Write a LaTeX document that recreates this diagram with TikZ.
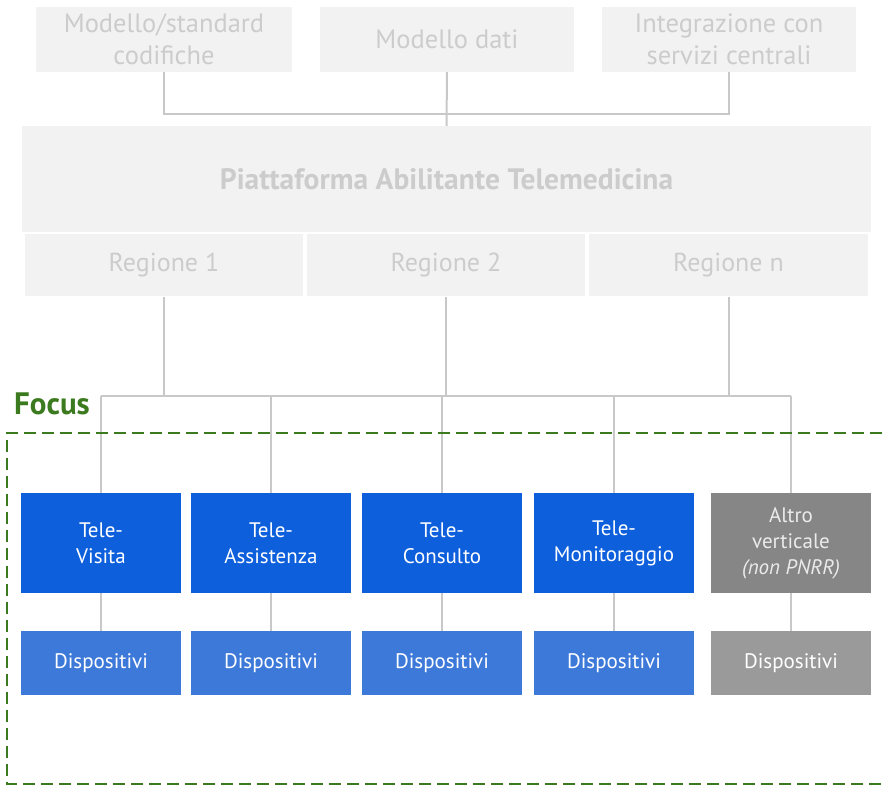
\documentclass[tikz,border=0pt]{standalone}
\usepackage{fontspec}
\setmainfont{PT Sans}
\definecolor{paleBox}{HTML}{F2F2F2}
\definecolor{paleText}{HTML}{CCCCCC}
\definecolor{wire}{HTML}{C8C8C8}
\definecolor{deepBlue}{HTML}{0D5FDC}
\definecolor{lightBlue}{HTML}{3D79D9}
\definecolor{darkGrey}{HTML}{868686}
\definecolor{midGrey}{HTML}{9A9A9A}
\definecolor{focusGreen}{HTML}{3B7A1E}
\begin{document}
\begin{tikzpicture}[x=1pt,y=-1pt,
  pale/.style={fill=paleBox,draw=none,text=paleText,inner sep=0pt,align=center,
    font=\fontsize{26.5}{32}\selectfont},
  regbox/.style={pale,minimum height=62pt,font=\fontsize{26}{30}\selectfont},
  vert/.style={fill=deepBlue,text=white,inner sep=0pt,align=center,
    minimum width=160pt,minimum height=100pt,font=\fontsize{21}{26}\selectfont},
  vertgrey/.style={vert,fill=darkGrey,text=white!92!black},
  devbox/.style={fill=lightBlue,text=white,inner sep=0pt,align=center,
    minimum width=160pt,minimum height=64pt,font=\fontsize{21}{26}\selectfont},
  devgrey/.style={devbox,fill=midGrey},
  wireline/.style={draw=wire,line width=2pt},
  focusline/.style={draw=focusGreen,line width=2.5pt,dash pattern=on 12pt off 6pt}]
\useasboundingbox (0,0) rectangle (883,784);
\clip (0,0) rectangle (883,784);

% standards / data model / central services
\node[pale,minimum width=256pt,minimum height=65pt] (std) at (164,39.5) {Modello/standard\\codifiche};
\node[pale,minimum width=254pt,minimum height=65pt] (dat) at (447,39.5) {Modello dati};
\node[pale,minimum width=254pt,minimum height=65pt] (svc) at (729,39.5) {Integrazione con\\servizi centrali};

% enabling platform and regions
\node[pale,minimum width=849pt,minimum height=106pt,font=\fontsize{29.5}{34}\selectfont\bfseries] (plat) at (446.5,179) {Piattaforma Abilitante Telemedicina};
\node[regbox,minimum width=278pt] (r1) at (164,265) {Regione 1};
\node[regbox,minimum width=278pt] (r2) at (446,265) {Regione 2};
\node[regbox,minimum width=279pt] (r3) at (728.5,265) {Regione n};

% verticals
\node[vert] (v1) at (101,543) {Tele-\\Visita};
\node[vert] (v2) at (271,543) {Tele-\\Assistenza};
\node[vert] (v3) at (442,543) {Tele-\\Consulto};
\node[vert] (v4) at (614,543) {Tele-\\Monitoraggio};
\node[vertgrey] (v5) at (791,543) {Altro\\verticale\\\textit{(non PNRR)}};

% devices
\node[devbox] (d1) at (101,663) {Dispositivi};
\node[devbox] (d2) at (271,663) {Dispositivi};
\node[devbox] (d3) at (442,663) {Dispositivi};
\node[devbox] (d4) at (614,663) {Dispositivi};
\node[devgrey] (d5) at (791,663) {Dispositivi};

% junctions
\coordinate (jtop) at (447,114);
\coordinate (jbus) at (447,395.5);

% upper connectors
\draw[wireline] (std.south) |- (jtop) -| (svc.south);
\draw[wireline] (dat.south) -- (plat.north);

% regions to bus
\foreach \r in {r1,r2,r3}
  \draw[wireline] (\r.south) ++(0,1) -- (\r.south |- jbus);
\draw[wireline] (v1.north |- jbus) -- (v5.north |- jbus);
\foreach \v in {v1,v2,v3,v4,v5}
  \draw[wireline] (\v.north |- jbus) -- (\v.north);

% verticals to devices
\foreach \i in {1,...,5}
  \draw[wireline] (v\i.south) -- (d\i.north);

% focus area
\node[anchor=base west,inner sep=0pt,text=focusGreen,font=\fontsize{31}{34}\selectfont\bfseries] (focus) at (14,414) {Focus};
\draw[focusline] (900,433) -- (7,433) -- (7,784) -- (900,784);
\end{tikzpicture}
\end{document}
